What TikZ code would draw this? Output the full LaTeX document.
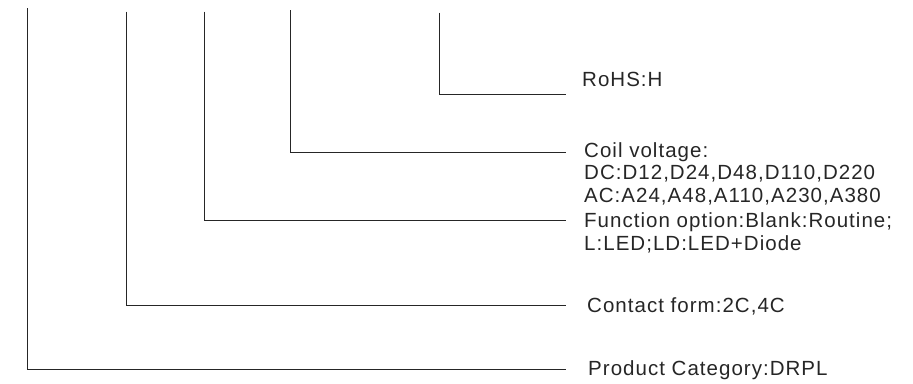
\documentclass[tikz,border=0pt]{standalone}
\usepackage{fontspec}
\newfontfamily\labelfont{Liberation Sans}[LetterSpace=5]
\begin{document}
\begin{tikzpicture}[x=1pt,y=-1pt,
  leader/.style={draw=black!85, line width=1pt},
  lbl/.style={font=\labelfont\fontsize{20.5}{22.5}\selectfont, text=black!85,
    inner sep=0pt, anchor=base west, align=left}]
\useasboundingbox (0,0) rectangle (913,383);
% free ends of the leaders
\coordinate (t1) at (27.7,8.3);   \coordinate (e1) at (566,369);
\coordinate (t2) at (126,11.7);   \coordinate (e2) at (566,305);
\coordinate (t3) at (204.3,11.7); \coordinate (e3) at (566,220.7);
\coordinate (t4) at (290,10);     \coordinate (e4) at (566,152);
\coordinate (t5) at (439.3,12.7); \coordinate (e5) at (566,94);
% leaders
\draw[leader] (t1) |- (e1);
\draw[leader] (t2) |- (e2);
\draw[leader] (t3) |- (e3);
\draw[leader] (t4) |- (e4);
\draw[leader] (t5) |- (e5);
% labels (base anchor of a multi-line label = baseline of its last line)
\node[lbl] (rohs) at (582,86.7) {RoHS:H};
\node[lbl] (coil) at (584,202) {Coil voltage:\\DC:D12,D24,D48,D110,D220\\AC:A24,A48,A110,A230,A380};
\node[lbl] (func) at (584,250) {Function option:Blank:Routine;\\L:LED;LD:LED+Diode};
\node[lbl] (contact) at (587,312.5) {Contact form:2C,4C};
\node[lbl] (product) at (588,375) {Product Category:DRPL};
\end{tikzpicture}
\end{document}
